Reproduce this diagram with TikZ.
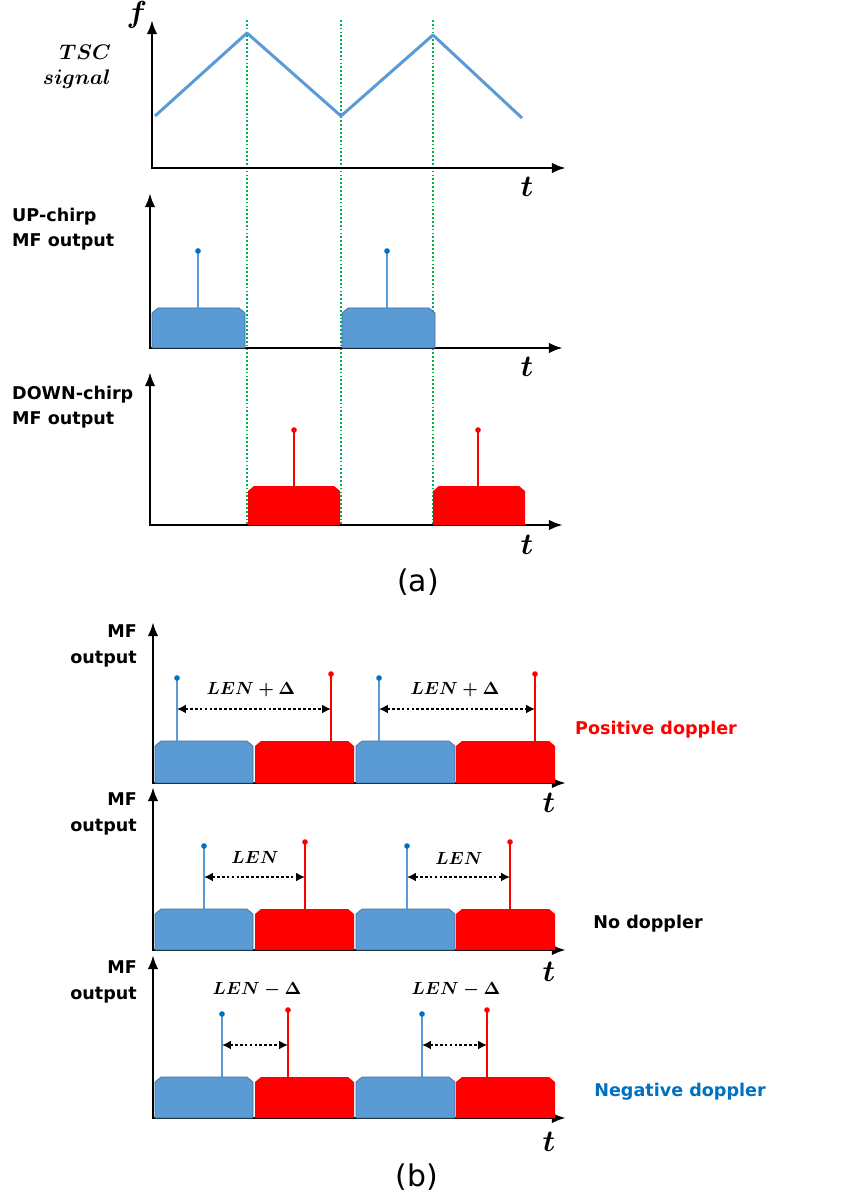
\documentclass[tikz,border=0pt]{standalone}
\usepackage{amsmath}
\usepackage{fontspec}
\newfontfamily\lblfont{DejaVu Sans}
\usetikzlibrary{arrows.meta,positioning}

\definecolor{upblue}{RGB}{91,155,213}
\definecolor{upedge}{RGB}{65,113,156}
\definecolor{dotblue}{RGB}{0,112,192}
\definecolor{guidegreen}{RGB}{0,176,80}

% block with cut top corners: style, x1, x2, top, bottom
\newcommand{\mfblock}[5]{%
  \path[#1] (#2,#5) -- (#2,#4+5) -- (#2+6,#4) -- (#3-6,#4) -- (#3,#4+5) -- (#3,#5) -- cycle;}
% correlation peak: stem colour, dot colour, x, top, base
\newcommand{\mfpeak}[5]{%
  \draw[stemline,#1] (#3,#5) -- (#3,#4);
  \fill[#2] (#3,#4) circle (1.6pt);}

\begin{document}
\begin{tikzpicture}[x=0.02cm,y=-0.02cm,
  axis/.style={line width=1.6pt,{Latex[length=8pt,width=6pt]}-{Latex[length=8pt,width=6pt]}},
  chirp/.style={line width=1.7pt,upblue,line join=round},
  guide/.style={guidegreen,line width=0.8pt,dash pattern=on 1pt off 1.2pt},
  stemline/.style={line width=0.9pt},
  upblk/.style={fill=upblue,draw=upedge,line width=0.4pt},
  downblk/.style={fill=red},
  gap/.style={line width=1.3pt,dash pattern=on 1.6pt off 1.2pt,{Latex[length=5pt,width=5pt]}-{Latex[length=5pt,width=5pt]}},
  tlabel/.style={font=\fontsize{17}{17}\selectfont},
  lenlabel/.style={font=\fontsize{10}{10}\selectfont},
  mflabel/.style={font=\lblfont\bfseries\fontsize{10}{14}\selectfont},
  caption/.style={font=\lblfont\fontsize{17}{17}\selectfont}]
  \useasboundingbox (0,0) rectangle (845,1202);

  % guide lines
  \foreach \gx in {247,341,433}
    \draw[guide] (\gx,20) -- (\gx,525);

  % axes: x, top of f-axis, origin y, end of t-axis
  \foreach \ox/\ty/\oy/\ex in {152/20/168/566, 150/193/348/563, 150/372/525/563,
                               153/622/783/566, 153/787/950/566, 153/955/1118/566}
    \draw[axis] (\ox,\ty) -- (\ox,\oy) -- (\ex,\oy);

  % (a) TSC signal
  \coordinate (s0) at (155,116);
  \coordinate (s1) at (247,33);
  \coordinate (s2) at (341,116);
  \coordinate (s3) at (433,35);
  \coordinate (s4) at (522,118);
  \draw[chirp] (s0) -- (s1) -- (s2) -- (s3) -- (s4);

  \node[tlabel] (fa) at (137,15) {$\boldsymbol{f}$};
  \node[tlabel] (ta1) at (527,187) {$\boldsymbol{t}$};
  \node[tlabel] (ta2) at (527,367) {$\boldsymbol{t}$};
  \node[tlabel] (ta3) at (527,545) {$\boldsymbol{t}$};
  \node[align=right,anchor=east,font=\fontsize{12}{14}\selectfont] (tsc) at (117,67)
    {$\boldsymbol{TSC}$\\$\boldsymbol{signal}$};
  \node[mflabel,align=left,anchor=west] (upmf) at (6,229) {UP-chirp\\MF output};
  \node[mflabel,align=left,anchor=west] (downmf) at (6,407) {DOWN-chirp\\MF output};

  % (a) matched filter outputs
  \mfblock{upblk}{152}{245}{308}{348}
  \mfblock{upblk}{342}{435}{308}{348}
  \mfblock{downblk}{248}{340}{486}{525}
  \mfblock{downblk}{433}{525}{486}{525}
  \mfpeak{upblue}{dotblue}{198}{251}{308}
  \mfpeak{upblue}{dotblue}{387}{251}{308}
  \mfpeak{red}{red}{294}{430}{486}
  \mfpeak{red}{red}{478}{430}{486}

  \node[caption] (capa) at (418,582) {(a)};

  % (b) three doppler cases: top, bottom, label y
  \foreach \bt/\bb/\ly in {741/783/646, 909/950/814, 1077/1118/982} {
    \mfblock{upblk}{155}{253}{\bt}{\bb}
    \mfblock{downblk}{255}{354}{\bt}{\bb}
    \mfblock{upblk}{356}{455}{\bt}{\bb}
    \mfblock{downblk}{456}{555}{\bt}{\bb}
    \node[mflabel,align=right,anchor=east,font=\lblfont\bfseries\fontsize{10}{14.5}\selectfont] at (143,\ly) {MF\\output};
  }
  \node[tlabel] (tb1) at (549,803) {$\boldsymbol{t}$};
  \node[tlabel] (tb2) at (549,972) {$\boldsymbol{t}$};
  \node[tlabel] (tb3) at (549,1142) {$\boldsymbol{t}$};

  % peaks and spacing: up x, down x, base, arrow y, case
  \foreach \ux/\dx/\base/\ay/\k in {177/331/741/709/p1, 379/535/741/709/p2,
                                   204/305/909/877/z1, 407/510/909/877/z2,
                                   222/288/1077/1045/n1, 422/487/1077/1045/n2} {
    \mfpeak{upblue}{dotblue}{\ux}{\base-63}{\base}
    \mfpeak{red}{red}{\dx}{\base-67}{\base}
    \coordinate (u\k) at (\ux,\ay);
    \coordinate (d\k) at (\dx,\ay);
    \draw[gap] (u\k) -- (d\k);
  }

  \node[lenlabel] (lp1) at (251,690) {$\boldsymbol{LEN+\Delta}$};
  \node[lenlabel] (lp2) at (455,690) {$\boldsymbol{LEN+\Delta}$};
  \node[lenlabel] (lz1) at (255,857) {$\boldsymbol{LEN}$};
  \node[lenlabel] (lz2) at (459,858) {$\boldsymbol{LEN}$};
  \node[lenlabel] (ln1) at (257,990) {$\boldsymbol{LEN-\Delta}$};
  \node[lenlabel] (ln2) at (456,990) {$\boldsymbol{LEN-\Delta}$};

  \node[mflabel,red] (pos) at (656,730) {Positive doppler};
  \node[mflabel] (zero) at (648,924) {No doppler};
  \node[mflabel,dotblue] (neg) at (680,1092) {Negative doppler};

  \node[caption] (capb) at (417,1177) {(b)};
\end{tikzpicture}
\end{document}
